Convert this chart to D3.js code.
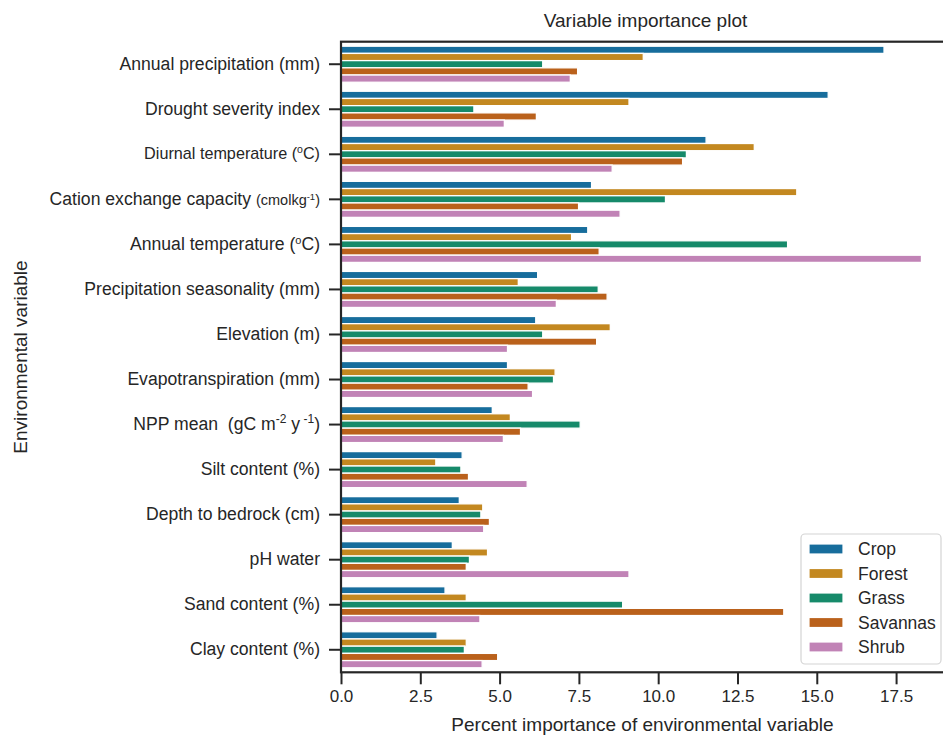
<!DOCTYPE html>
<html>
<head>
<meta charset="utf-8">
<script src="https://cdn.jsdelivr.net/npm/d3@7"></script>
<style>
  body { margin: 0; background: #fff; }
  text { font-family: "Liberation Sans", Arial, sans-serif; fill: #262626; }
</style>
</head>
<body>
<svg id="chart" width="943" height="738"></svg>
<script>
// Environmental variables, ordered top to bottom
const categories = [
  "Annual precipitation (mm)",
  "Drought severity index",
  "Diurnal temperature (°C)",
  "Cation exchange capacity (cmolkg-1)",
  "Annual temperature (°C)",
  "Precipitation seasonality (mm)",
  "Elevation (m)",
  "Evapotranspiration (mm)",
  "NPP mean (gC m-2 y-1)",
  "Silt content (%)",
  "Depth to bedrock (cm)",
  "pH water",
  "Sand content (%)",
  "Clay content (%)"
];

// Land-cover classes (hue)
const biomes = ["Crop", "Forest", "Grass", "Savannas", "Shrub"];

// Percent importance per variable, one array per land-cover class
const crop     = [17.12, 15.36, 11.51, 7.90, 7.78, 6.20, 6.14, 5.25, 4.77, 3.82, 3.73, 3.51, 3.28, 3.03];
const forest   = [9.53, 9.08, 13.03, 14.37, 7.27, 5.59, 8.49, 6.75, 5.34, 2.99, 4.47, 4.62, 3.95, 3.95];
const grass    = [6.36, 4.19, 10.89, 10.23, 14.08, 8.11, 6.36, 6.70, 7.54, 3.78, 4.41, 4.05, 8.88, 3.89];
const savannas = [7.46, 6.16, 10.77, 7.49, 8.14, 8.39, 8.06, 5.90, 5.66, 4.02, 4.68, 3.95, 13.96, 4.94];
const shrub    = [7.23, 5.15, 8.55, 8.80, 18.30, 6.79, 5.25, 6.04, 5.12, 5.87, 4.50, 9.08, 4.38, 4.45];

const xTicks = [0, 2.5, 5, 7.5, 10, 12.5, 15, 17.5];

const seriesValues = [crop, forest, grass, savannas, shrub];
const colors = ["#176d9c", "#c38820", "#168a6a", "#ba611b", "#c183b6"];

// Rich text segments for labels with superscripts / smaller units
const richLabels = {
  "Diurnal temperature (°C)": [["Diurnal temperature (", {}], ["o", {sup: true, size: 10.5}], ["C)", {}]],
  "Annual temperature (°C)": [["Annual temperature (", {}], ["o", {sup: true, size: 11}], ["C)", {}]],
  "Cation exchange capacity (cmolkg-1)": [["Cation exchange capacity ", {}], ["(cmolkg", {size: 14.5}], ["-1", {sup: true, size: 9.5}], [")", {size: 14.5}]],
  "NPP mean (gC m-2 y-1)": [["NPP mean\u00a0 (gC m", {}], ["-2", {sup: true, size: 12}], ["\u00a0y", {}], ["\u00a0-1", {sup: true, size: 12}], [")", {}]]
};
const labelSize = { "Diurnal temperature (°C)": 16.2 };

const svg = d3.select("#chart");
const plotLeft = 341, plotRight = 950, plotTop = 41.7, plotBottom = 672.3;

const x = d3.scaleLinear().domain([0, 19.2]).range([plotLeft, plotRight]);
const y = d3.scaleBand().domain(categories).range([plotTop, plotBottom]).paddingInner(0).paddingOuter(0);
const yHue = d3.scaleBand().domain(biomes).range([y.bandwidth() * 0.1, y.bandwidth() * 0.9]);

// Bars
biomes.forEach((b, bi) => {
  svg.append("g")
    .selectAll("rect")
    .data(categories.map((c, i) => ({ c, v: seriesValues[bi][i] })))
    .join("rect")
    .attr("x", x(0))
    .attr("y", d => y(d.c) + yHue(b))
    .attr("width", d => x(d.v) - x(0))
    .attr("height", yHue.bandwidth())
    .attr("fill", colors[bi])
    .attr("stroke", "#fff")
    .attr("stroke-width", 1.3);
});

// X axis
const xAxis = svg.append("g")
  .attr("transform", `translate(0,${plotBottom})`)
  .call(d3.axisBottom(x).tickValues(xTicks).tickFormat(d3.format(".1f")).tickSize(12).tickPadding(6));
xAxis.select(".domain").remove();
xAxis.selectAll(".tick line").attr("stroke", "#262626").attr("stroke-width", 2);
xAxis.selectAll(".tick text").attr("font-size", 17).style("font-family", '"Liberation Sans", Arial, sans-serif');

// Y axis
const yAxis = svg.append("g")
  .attr("transform", `translate(${plotLeft},0)`)
  .call(d3.axisLeft(y).tickSize(12).tickPadding(9));
yAxis.select(".domain").remove();
yAxis.selectAll(".tick line").attr("stroke", "#262626").attr("stroke-width", 2);
yAxis.selectAll(".tick text")
  .attr("font-size", d => labelSize[d] || 17.6)
  .style("font-family", '"Liberation Sans", Arial, sans-serif')
  .each(function (d) {
    const parts = richLabels[d];
    if (!parts) return;
    const t = d3.select(this).text(null);
    parts.forEach(([txt, st]) => {
      const ts = t.append("tspan").text(txt);
      if (st.size) ts.attr("font-size", st.size);
      if (st.sup) ts.attr("baseline-shift", "super");
    });
  });

// Spines
svg.append("rect")
  .attr("x", plotLeft).attr("y", plotTop)
  .attr("width", plotRight - plotLeft).attr("height", plotBottom - plotTop)
  .attr("fill", "none").attr("stroke", "#262626").attr("stroke-width", 2.2);

// Titles
svg.append("text")
  .attr("x", (plotLeft + plotRight) / 2).attr("y", 27)
  .attr("text-anchor", "middle").attr("font-size", 19)
  .text("Variable importance plot");

svg.append("text")
  .attr("x", (plotLeft + plotRight) / 2 - 3).attr("y", 731)
  .attr("text-anchor", "middle").attr("font-size", 19)
  .text("Percent importance of environmental variable");

svg.append("text")
  .attr("transform", `translate(27,${(plotTop + plotBottom) / 2}) rotate(-90)`)
  .attr("text-anchor", "middle").attr("font-size", 19)
  .text("Environmental variable");

// Legend
const legend = svg.append("g");
legend.append("rect")
  .attr("x", 801).attr("y", 534).attr("width", 140).attr("height", 130).attr("rx", 4)
  .attr("fill", "#fff").attr("fill-opacity", 0.85)
  .attr("stroke", "#d4d4d4").attr("stroke-width", 1.2);
biomes.forEach((b, i) => {
  const cy = 549 + i * 24.5;
  legend.append("rect")
    .attr("x", 809).attr("y", cy - 5).attr("width", 34).attr("height", 10)
    .attr("fill", colors[i]).attr("stroke", "#fff").attr("stroke-width", 1.2);
  legend.append("text")
    .attr("x", 858).attr("y", cy).attr("dy", "0.35em")
    .attr("font-size", 17.5).text(b);
});
</script>
</body>
</html>
